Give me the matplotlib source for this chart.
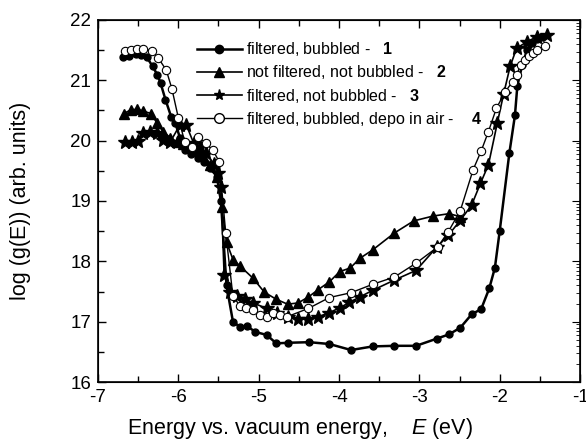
import matplotlib
matplotlib.use("Agg")
import matplotlib.pyplot as plt
from matplotlib.ticker import MultipleLocator, NullFormatter
from matplotlib.lines import Line2D

plt.rcParams['font.family'] = ['Liberation Sans', 'DejaVu Sans']
plt.rcParams['mathtext.fontset'] = 'custom'
plt.rcParams['mathtext.rm'] = 'Liberation Sans'
plt.rcParams['mathtext.it'] = 'Liberation Sans:italic'
plt.rcParams['mathtext.bf'] = 'Liberation Sans:bold'
plt.rcParams['axes.unicode_minus'] = False

# Series 1: filtered, bubbled (filled circles)
x1 = [-6.69, -6.61, -6.53, -6.46, -6.39, -6.32, -6.26, -6.22, -6.16, -6.09, -6.04, -5.98,
      -5.92, -5.84, -5.76, -5.68, -5.60, -5.52, -5.47, -5.40, -5.32, -5.23, -5.15, -5.04,
      -4.90, -4.78, -4.64, -4.37, -4.12, -3.85, -3.58, -3.31, -3.04, -2.78, -2.63, -2.49,
      -2.35, -2.23, -2.13, -2.06, -2.00, -1.88, -1.81, -1.78, -1.72, -1.66, -1.60, -1.54, -1.48]
y1 = [21.39, 21.41, 21.43, 21.42, 21.38, 21.23, 21.09, 20.95, 20.68, 20.40, 20.30, 20.05,
      19.85, 19.78, 19.72, 19.65, 19.55, 19.40, 19.00, 17.60, 17.00, 16.91, 16.93, 16.83,
      16.78, 16.64, 16.65, 16.66, 16.63, 16.53, 16.59, 16.60, 16.60, 16.72, 16.79, 16.90,
      17.12, 17.21, 17.55, 17.89, 18.50, 19.79, 20.42, 20.91, 21.25, 21.50, 21.62, 21.68, 21.72]

# Series 2: not filtered, not bubbled (triangles)
x2 = [-6.68, -6.59, -6.51, -6.44, -6.34, -6.27, -6.19, -6.10, -6.02, -5.94, -5.85, -5.77,
      -5.69, -5.60, -5.52, -5.46, -5.40, -5.32, -5.23, -5.07, -4.93, -4.78, -4.64, -4.51,
      -4.38, -4.26, -4.12, -3.99, -3.86, -3.74, -3.58, -3.31, -3.07, -2.83, -2.63, -2.49]
y2 = [20.45, 20.51, 20.52, 20.49, 20.45, 20.30, 20.15, 20.05, 19.98, 19.95, 19.90, 19.85,
      19.75, 19.60, 19.40, 18.90, 18.32, 18.03, 17.92, 17.72, 17.49, 17.37, 17.29, 17.31,
      17.41, 17.53, 17.66, 17.83, 17.89, 18.05, 18.19, 18.47, 18.67, 18.75, 18.79, 18.74]

# Series 3: filtered, not bubbled (stars)
x3 = [-6.66, -6.58, -6.50, -6.44, -6.35, -6.27, -6.19, -6.10, -5.98, -5.90, -5.81, -5.73,
      -5.65, -5.56, -5.50, -5.47, -5.43, -5.36, -5.27, -5.17, -5.07, -4.90, -4.77, -4.64,
      -4.51, -4.38, -4.26, -4.12, -3.99, -3.87, -3.74, -3.58, -3.31, -3.04, -2.78, -2.64,
      -2.49, -2.35, -2.24, -2.14, -2.03, -1.95, -1.87, -1.79, -1.66, -1.54, -1.41]
y3 = [19.98, 19.97, 19.99, 20.12, 20.15, 20.12, 20.01, 19.98, 20.26, 20.26, 19.96, 19.90,
      19.79, 19.62, 19.46, 19.24, 17.78, 17.50, 17.42, 17.38, 17.31, 17.22, 17.14, 17.07,
      17.05, 17.05, 17.08, 17.15, 17.23, 17.32, 17.41, 17.52, 17.69, 17.85, 18.24, 18.43,
      18.68, 18.93, 19.29, 19.60, 20.29, 20.78, 21.23, 21.53, 21.64, 21.72, 21.75]

# Series 4: filtered, bubbled, depo in air (open circles)
x4 = [-6.66, -6.59, -6.52, -6.44, -6.33, -6.25, -6.15, -6.08, -6.00, -5.92, -5.83, -5.75,
      -5.66, -5.57, -5.49, -5.41, -5.32, -5.23, -5.16, -5.07, -4.98, -4.90, -4.82, -4.73,
      -4.65, -4.38, -4.12, -3.85, -3.58, -3.31, -3.04, -2.77, -2.64, -2.49, -2.33, -2.23,
      -2.14, -2.04, -1.93, -1.84, -1.79, -1.74, -1.68, -1.63, -1.58, -1.53, -1.43]
y4 = [21.49, 21.50, 21.52, 21.52, 21.49, 21.37, 21.17, 20.86, 20.38, 19.98, 19.90, 20.06,
      19.96, 19.84, 19.65, 18.47, 17.42, 17.26, 17.22, 17.19, 17.11, 17.08, 17.14, 17.11,
      17.08, 17.22, 17.40, 17.48, 17.62, 17.74, 17.97, 18.24, 18.49, 18.84, 19.52, 19.83,
      20.15, 20.54, 20.81, 20.98, 21.09, 21.25, 21.34, 21.41, 21.46, 21.51, 21.57]

labels = ["filtered, bubbled -   $\\mathbf{1}$",
          "not filtered, not bubbled -   $\\mathbf{2}$",
          "filtered, not bubbled -   $\\mathbf{3}$",
          "filtered, bubbled, depo in air -    $\\mathbf{4}$"]

fig = plt.figure(figsize=(5.86, 4.48), dpi=100)
ax = fig.add_axes([0.1672, 0.1473, 0.8226, 0.8081])

ax.plot(x1, y1, '-', color='black', lw=1.8, marker='o', ms=5, mfc='black', mec='black', zorder=4)
ax.plot(x2, y2, '-', color='black', lw=1.2, marker='^', ms=6.5, mfc='black', mec='black', zorder=3)
ax.plot(x3, y3, '-', color='black', lw=1.2, marker='*', ms=10, mfc='black', mec='black', zorder=3)
ax.plot(x4, y4, '-', color='black', lw=1.0, marker='o', ms=6, mfc='white', mec='black', mew=0.8, zorder=5)

ax.set_xlim(-7, -1)
ax.set_ylim(16, 22)
ax.xaxis.set_major_locator(MultipleLocator(1))
ax.xaxis.set_minor_locator(MultipleLocator(0.5))
ax.yaxis.set_major_locator(MultipleLocator(1))
ax.yaxis.set_minor_locator(MultipleLocator(0.5))
ax.tick_params(which='both', direction='in', top=True, right=False, labelsize=13.5, width=1)
ax.tick_params(which='major', length=6, pad=5)
ax.tick_params(which='minor', length=4)
for s in ax.spines.values():
    s.set_linewidth(1.2)

ax2 = ax.twinx()
ax2.set_yscale('log')
ax2.set_ylim(1e16, 1e22)
ax2.tick_params(which='both', direction='in', labelright=False)
ax2.tick_params(which='major', length=6)
ax2.tick_params(which='minor', length=3)
ax2.yaxis.set_minor_formatter(NullFormatter())

ax.set_xlabel("Energy vs. vacuum energy,    $E$ (eV)", fontsize=15.5)
ax.xaxis.set_label_coords(0.42, -0.095)
ax.set_ylabel("log (g(E)) (arb. units)", fontsize=15.5)
ax.yaxis.set_label_coords(-0.139, 0.5)

handles = [
    Line2D([], [], color='black', lw=1.8, marker='o', ms=6, mfc='black'),
    Line2D([], [], color='black', lw=1.2, marker='^', ms=7, mfc='black'),
    Line2D([], [], color='black', lw=1.2, marker='*', ms=8, mfc='black'),
    Line2D([], [], color='black', lw=1.0, marker='o', ms=7, mfc='white', mec='black'),
]
leg = ax.legend(handles, labels, loc='upper left', bbox_to_anchor=(0.192, 0.962),
                frameon=False, fontsize=11.5, handlelength=2.8, handletextpad=0.25,
                labelspacing=0.33, borderaxespad=0)

fig.savefig("out.png", dpi=100)
